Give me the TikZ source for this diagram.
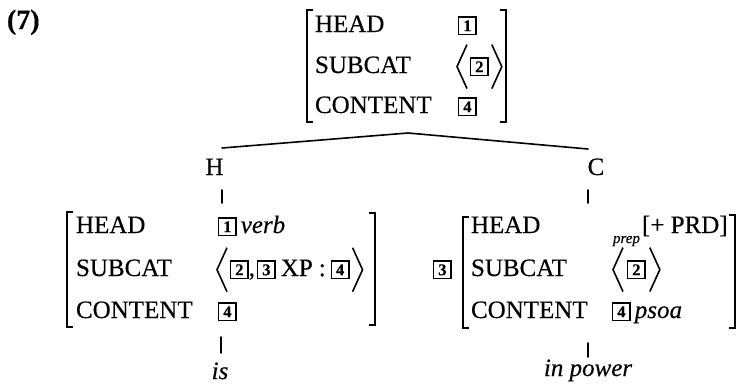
\documentclass[tikz,border=0pt]{standalone}
\usepackage{fontspec}
\setmainfont{Liberation Serif}[FakeBold=0.35]

% main AVM type size
\newcommand\avmsize{\fontsize{25}{30}\selectfont}
% boxed structure-sharing tag
\newcommand\tg[1]{{\setlength\fboxsep{0pt}\setlength\fboxrule{1.4pt}%
  \raisebox{-1.6pt}{\fbox{\makebox[16pt]{\rule{0pt}{16pt}%
  \raisebox{2.4pt}{\fontsize{16.5}{16.5}\selectfont\bfseries #1}}}}}}

\begin{document}
\begin{tikzpicture}[x=1pt,y=-1pt,
  every node/.style={inner sep=0pt,outer sep=0pt,font=\avmsize},
  lbl/.style={anchor=base west},
  brk/.style={line width=2.2pt,line cap=butt,line join=miter},
  ang/.style={line width=1.6pt,line join=miter},
  branch/.style={line width=1.6pt,line cap=round}]
\useasboundingbox (0,0) rectangle (738,384);

% example number
\node[lbl,font=\fontsize{28}{30}\selectfont\bfseries] (exnum) at (7,29) {(7)};

% ---------- mother AVM ----------
\node[lbl] (tHead) at (315,32)  {HEAD};
\node[lbl] (tSub)  at (315,73)  {SUBCAT};
\node[lbl] (tCont) at (315,113) {CONTENT};
\node[lbl] (tHv)   at (458,32)  {\tg{1}};
\node[lbl] (tSv)   at (470,73)  {\tg{2}};
\node[lbl] (tCv)   at (458,113) {\tg{4}};
\draw[ang] (tSv.west) ++(-3,-22) -- ++(-10,22) -- ++(10,22);
\draw[ang] (tSv.east) ++(3,-22) -- ++(10,22) -- ++(-10,22);
\draw[brk] (313,10) -- (307,10) -- (307,122) -- (313,122);
\draw[brk] (500,10) -- (506,10) -- (506,122) -- (500,122);

% ---------- branches ----------
\coordinate (apex) at (408,133);
\coordinate (hEnd) at (222,148);
\coordinate (cEnd) at (588,149);
\draw[branch] (hEnd) -- (apex) -- (cEnd);
\node[anchor=base] (hLab) at (214.5,175) {H};
\node[anchor=base] (cLab) at (596,175) {C};
\coordinate (hT1) at (222,190); \coordinate (hT2) at (222,203);
\coordinate (cT1) at (588,190); \coordinate (cT2) at (588,203);
\draw[branch] (hT1) -- (hT2);
\draw[branch] (cT1) -- (cT2);

% ---------- head daughter ----------
\node[lbl] (lHead) at (76,233) {HEAD};
\node[lbl] (lSub)  at (76,276) {SUBCAT};
\node[lbl] (lCont) at (76,318) {CONTENT};
\node[lbl] (lHv)   at (218,233) {\tg{1}\kern4pt\textit{verb}};
\node[lbl] (lSv)   at (230,276) {\tg{2},\kern2pt\tg{3}\kern5pt XP\kern6pt:\kern5pt\tg{4}};
\node[lbl] (lCv)   at (218,318) {\tg{4}};
\draw[ang] (lSv.west) ++(-3,-22) -- ++(-10,22) -- ++(10,22);
\draw[ang] (lSv.east) ++(3,-22) -- ++(10,22) -- ++(-10,22);
\draw[brk] (73,212) -- (67,212) -- (67,327) -- (73,327);
\draw[brk] (369,213) -- (375,213) -- (375,325) -- (369,325);

\coordinate (isT1) at (221,337); \coordinate (isT2) at (221,353);
\draw[branch] (isT1) -- (isT2);
\node[anchor=base,font=\avmsize\itshape] (isWord) at (220,379) {is};

% ---------- complement daughter ----------
\node[lbl] (rTag)  at (433,276) {\tg{3}};
\node[lbl] (rHead) at (471,233) {HEAD};
\node[lbl] (rSub)  at (471,276) {SUBCAT};
\node[lbl] (rCont) at (471,318) {CONTENT};
\node[lbl,font=\fontsize{15}{15}\selectfont\itshape] (rPrep) at (613,243) {prep};
\node[lbl] (rHv)   at (642,233) {[+ PRD]};
\node[lbl] (rSv)   at (627,276) {\tg{2}};
\node[lbl] (rCv)   at (612,318) {\tg{4}\kern4pt\textit{psoa}};
\draw[ang] (rSv.west) ++(-4,-22) -- ++(-10,22) -- ++(10,22);
\draw[ang] (rSv.east) ++(4,-22) -- ++(10,22) -- ++(-10,22);
\draw[brk] (469,217) -- (463,217) -- (463,328) -- (469,328);
\draw[brk] (729,215) -- (735,215) -- (735,328) -- (729,328);

\coordinate (ipT1) at (588,343); \coordinate (ipT2) at (588,357);
\draw[branch] (ipT1) -- (ipT2);
\node[anchor=base,font=\avmsize\itshape] (ipWord) at (588,376) {in power};
\end{tikzpicture}
\end{document}
